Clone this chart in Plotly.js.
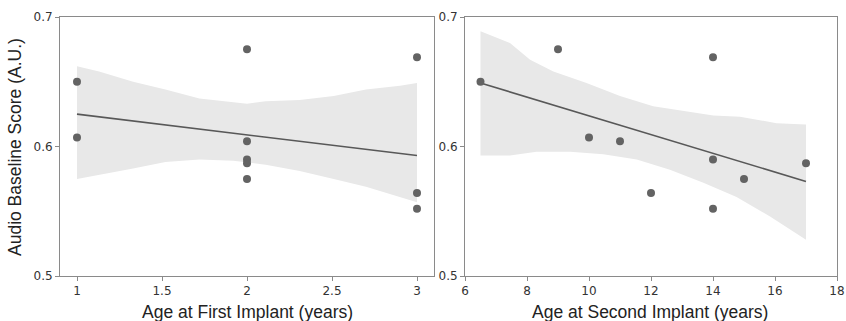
<!DOCTYPE html>
<html>
<head>
<meta charset="utf-8">
<script src="https://cdn.plot.ly/plotly-3.0.1.min.js"></script>
<style>html,body{margin:0;padding:0;background:#fff;}#chart{width:846px;height:321px;}</style>
</head>
<body>
<div id="chart"></div>
<script>
// Data
const ageFirst  = [1, 2, 1, 2, 3, 3, 2, 3, 2, 2];
const ageSecond = [6.5, 9, 10, 11, 12, 14, 14, 14, 15, 17];
const audioScore = [0.650, 0.675, 0.607, 0.604, 0.564, 0.669, 0.590, 0.552, 0.575, 0.587];

// Regression lines (endpoints)
const fitFirstX = [1, 3];
const fitFirstY = [0.625, 0.593];
const fitSecondX = [6.5, 17];
const fitSecondY = [0.649, 0.573];

// Confidence bands
const bandFirstUpperX = [1, 1.13, 1.33, 1.52, 1.72, 1.80, 1.92, 2.0, 2.11, 2.31, 2.51, 2.70, 2.90, 3.0];
const bandFirstUpperY = [0.662, 0.658, 0.650, 0.644, 0.637, 0.636, 0.634, 0.633, 0.635, 0.636, 0.639, 0.644, 0.647, 0.649];
const bandFirstLowerX = [1, 1.13, 1.33, 1.52, 1.72, 1.92, 2.0, 2.11, 2.31, 2.51, 2.70, 2.90, 3.0];
const bandFirstLowerY = [0.575, 0.578, 0.583, 0.588, 0.590, 0.589, 0.588, 0.586, 0.581, 0.575, 0.569, 0.561, 0.557];

const bandSecondUpperX = [6.5, 7.45, 8.1, 8.85, 9.92, 11.0, 12.07, 13.15, 14.01, 14.87, 15.3, 16.05, 17];
const bandSecondUpperY = [0.689, 0.680, 0.667, 0.658, 0.649, 0.639, 0.631, 0.627, 0.624, 0.623, 0.621, 0.618, 0.617];
const bandSecondLowerX = [6.5, 7.45, 8.31, 9.39, 10.46, 11.54, 12.61, 13.69, 14.76, 15.84, 17];
const bandSecondLowerY = [0.593, 0.593, 0.596, 0.596, 0.594, 0.590, 0.582, 0.572, 0.561, 0.546, 0.528];

const firstTicks = [1, 1.5, 2, 2.5, 3];
const firstTickText = ['1', '1.5', '2', '2.5', '3'];
const secondTicks = [6, 8, 10, 12, 14, 16, 18];
const yTicks = [0.5, 0.6, 0.7];
const yTickText = ['0.5', '0.6', '0.7'];

function poly(ux, uy, lx, ly) {
  return {
    x: ux.concat(lx.slice().reverse()),
    y: uy.concat(ly.slice().reverse())
  };
}

const bandColor = '#e8e8e8';
const markerColor = '#636363';
const lineColor = '#585858';

const p1 = poly(bandFirstUpperX, bandFirstUpperY, bandFirstLowerX, bandFirstLowerY);
const p2 = poly(bandSecondUpperX, bandSecondUpperY, bandSecondLowerX, bandSecondLowerY);

const traces = [
  {x: p1.x, y: p1.y, type: 'scatter', mode: 'lines', fill: 'toself', fillcolor: bandColor,
   line: {width: 0, color: bandColor}, xaxis: 'x', yaxis: 'y', hoverinfo: 'skip'},
  {x: fitFirstX, y: fitFirstY, type: 'scatter', mode: 'lines', line: {color: lineColor, width: 1.6},
   xaxis: 'x', yaxis: 'y'},
  {x: ageFirst, y: audioScore, type: 'scatter', mode: 'markers',
   marker: {color: markerColor, size: 8}, xaxis: 'x', yaxis: 'y'},
  {x: p2.x, y: p2.y, type: 'scatter', mode: 'lines', fill: 'toself', fillcolor: bandColor,
   line: {width: 0, color: bandColor}, xaxis: 'x2', yaxis: 'y2', hoverinfo: 'skip'},
  {x: fitSecondX, y: fitSecondY, type: 'scatter', mode: 'lines', line: {color: lineColor, width: 1.6},
   xaxis: 'x2', yaxis: 'y2'},
  {x: ageSecond, y: audioScore, type: 'scatter', mode: 'markers',
   marker: {color: markerColor, size: 8}, xaxis: 'x2', yaxis: 'y2'}
];

const W = 846, H = 321;
const axisCommon = {
  showline: true, mirror: true, linecolor: '#8a8a8a', linewidth: 1,
  ticks: 'outside', ticklen: 4, tickcolor: '#8a8a8a', tickwidth: 1,
  showgrid: false, zeroline: false,
  tickfont: {family: 'DejaVu Sans, sans-serif', size: 12, color: '#333'}
};
const yDomain = [1 - 276 / H, 1 - 17 / H];

const layout = {
  width: W, height: H,
  margin: {l: 0, r: 0, t: 0, b: 0},
  paper_bgcolor: '#fff', plot_bgcolor: '#fff',
  showlegend: false,
  font: {family: 'Liberation Sans, Arial, sans-serif', color: '#222'},
  xaxis: Object.assign({}, axisCommon, {domain: [60 / W, 434 / W], range: [0.9, 3.1],
    tickvals: firstTicks, ticktext: firstTickText, anchor: 'y'}),
  yaxis: Object.assign({}, axisCommon, {domain: yDomain, range: [0.5, 0.7],
    tickvals: yTicks, ticktext: yTickText, anchor: 'x'}),
  xaxis2: Object.assign({}, axisCommon, {domain: [465 / W, 837 / W], range: [6, 18],
    tickvals: secondTicks, anchor: 'y2'}),
  yaxis2: Object.assign({}, axisCommon, {domain: yDomain, range: [0.5, 0.7],
    tickvals: yTicks, ticktext: yTickText, anchor: 'x2'}),
  annotations: [
    {text: 'Audio Baseline Score (A.U.)', xref: 'paper', yref: 'paper', x: 15 / W, y: 1 - 147 / H,
     textangle: -90, showarrow: false, xanchor: 'center', yanchor: 'middle',
     font: {size: 17.5, color: '#222'}},
    {text: 'Age at First Implant (years)', xref: 'paper', yref: 'paper', x: 248 / W, y: 1 - 312 / H,
     showarrow: false, xanchor: 'center', yanchor: 'middle', font: {size: 17.5, color: '#222'}},
    {text: 'Age at Second Implant (years)', xref: 'paper', yref: 'paper', x: 650 / W, y: 1 - 312 / H,
     showarrow: false, xanchor: 'center', yanchor: 'middle', font: {size: 17.5, color: '#222'}}
  ]
};

Plotly.newPlot('chart', traces, layout, {staticPlot: true, displayModeBar: false});
</script>
</body>
</html>
